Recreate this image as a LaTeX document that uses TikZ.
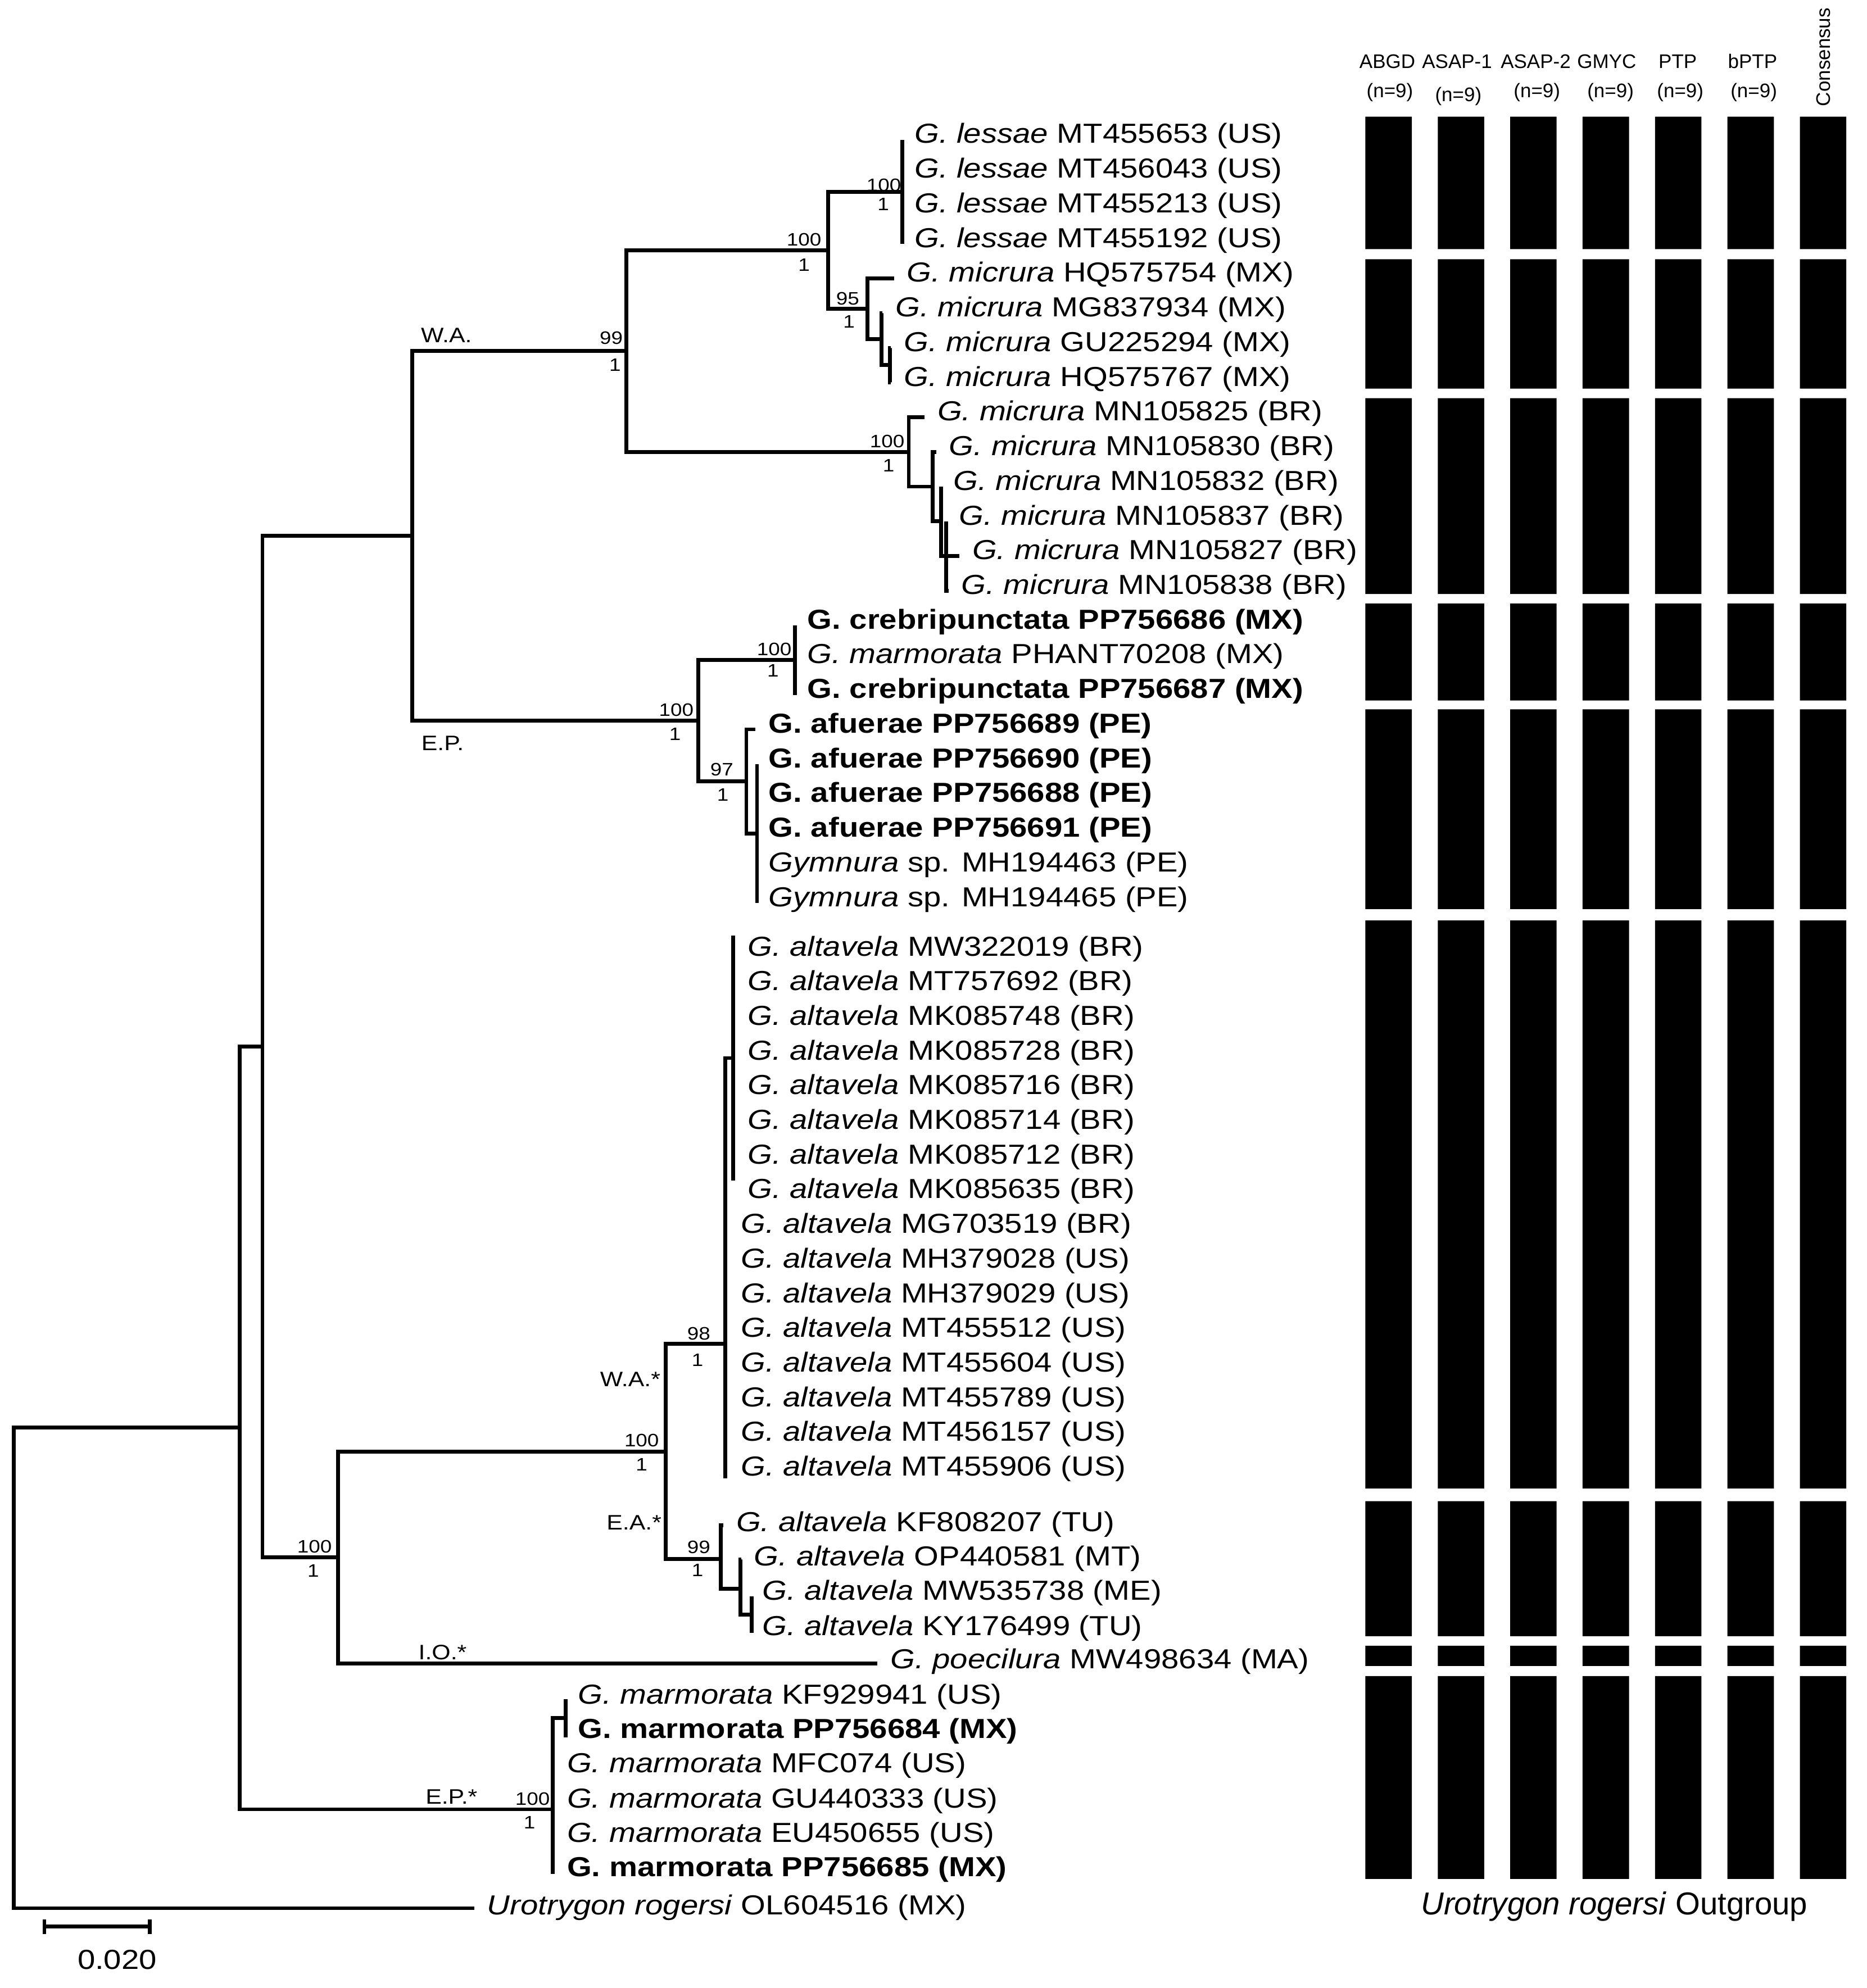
\documentclass[tikz,border=0pt]{standalone}
\usepackage{fontspec}
\setmainfont{Liberation Sans}
\begin{document}
\begin{tikzpicture}[x=1pt,y=-1pt,
	branch/.style={line width=3pt},
	taxon/.style={anchor=base west, inner sep=0pt, font=\fontsize{21.7}{26}\selectfont, xscale=1.15},
	supp/.style={inner sep=0pt, font=\fontsize{14.2}{17}\selectfont, xscale=1.15},
	clade/.style={anchor=base, inner sep=0pt, font=\fontsize{16.5}{20}\selectfont, xscale=1.15},
	hdr/.style={anchor=base, inner sep=0pt, font=\fontsize{15.5}{18}\selectfont},
	mbar/.style={fill=black}]
	\useasboundingbox (0,0) rectangle (1472,1568);

	% internal nodes
	\coordinate (nR) at (11,1315);
	\coordinate (nA) at (189,1126);
	\coordinate (nB) at (207,825.5);
	\coordinate (nC) at (325,422.7);
	\coordinate (nD) at (494,276.9);
	\coordinate (nJ) at (653,197.4);
	\coordinate (nL) at (711.5,151.25);
	\coordinate (nQ) at (684,243.6);
	\coordinate (nS) at (695,267.5);
	\coordinate (nT) at (701.8,288.0);
	\coordinate (nP) at (716.6,356.4);
	\coordinate (nU) at (735.6,383.8);
	\coordinate (nV) at (742,411.2);
	\coordinate (nW) at (746,438.5);
	\coordinate (nE) at (550.5,568.5);
	\coordinate (nX) at (627,520.6);
	\coordinate (nY) at (588.5,616.4);
	\coordinate (nZ) at (597,657.4);
	\coordinate (nF) at (266.5,1228.4);
	\coordinate (nG) at (525,1144.8);
	\coordinate (nH) at (572,1060);
	\coordinate (nI) at (578,834.5);
	\coordinate (nK) at (568.4,1229.6);
	\coordinate (nK1) at (584,1253);
	\coordinate (nK2) at (592.6,1273.5);
	\coordinate (nM) at (436,1427);
	\coordinate (nN) at (446,1355);

	% branch ends
	\coordinate (e1) at (711.5,110.2);
	\coordinate (e2) at (711.5,137.6);
	\coordinate (e3) at (711.5,164.9);
	\coordinate (e4) at (711.5,192.3);
	\coordinate (e5) at (705,219.6);
	\coordinate (e6) at (696,247.0);
	\coordinate (e7) at (702.6,274.4);
	\coordinate (e8) at (702.6,301.7);
	\coordinate (e9) at (729,329.1);
	\coordinate (e10) at (738.3,356.4);
	\coordinate (e11) at (742,383.8);
	\coordinate (e12) at (746,411.2);
	\coordinate (e13) at (756.5,438.5);
	\coordinate (e14) at (748,465.9);
	\coordinate (e15) at (627,493.2);
	\coordinate (e16) at (627,520.6);
	\coordinate (e17) at (627,548.0);
	\coordinate (e18) at (595.8,575.3);
	\coordinate (e19) at (597,602.7);
	\coordinate (e20) at (597,630.0);
	\coordinate (e21) at (597,657.4);
	\coordinate (e22) at (597,684.8);
	\coordinate (e23) at (597,712.1);
	\coordinate (e24) at (578,738);
	\coordinate (e25) at (578,765.6);
	\coordinate (e26) at (578,793.1);
	\coordinate (e27) at (578,820.7);
	\coordinate (e28) at (578,848.3);
	\coordinate (e29) at (578,875.9);
	\coordinate (e30) at (578,903.4);
	\coordinate (e31) at (578,931);
	\coordinate (e32) at (572,969.8);
	\coordinate (e33) at (572,997.2);
	\coordinate (e34) at (572,1024.5);
	\coordinate (e35) at (572,1051.8);
	\coordinate (e36) at (572,1079.2);
	\coordinate (e37) at (572,1106.5);
	\coordinate (e38) at (572,1133.8);
	\coordinate (e39) at (572,1166);
	\coordinate (e40) at (570.4,1203);
	\coordinate (e41) at (584.5,1230);
	\coordinate (e42) at (592.6,1259);
	\coordinate (e43) at (592.6,1288);
	\coordinate (e44) at (692,1312);
	\coordinate (e45) at (446,1340);
	\coordinate (e46) at (446,1370.5);
	\coordinate (e47) at (436,1395);
	\coordinate (e48) at (436,1423);
	\coordinate (e49) at (436,1450);
	\coordinate (e50) at (436,1478);
	\coordinate (e51) at (374,1505);

	% branches
	\draw[branch] (nR) |- (nA) (nR) |- (e51);
	\draw[branch] (nA) |- (nB) (nA) |- (nM);
	\draw[branch] (nB) |- (nC) (nB) |- (nF);
	\draw[branch] (nC) |- (nD) (nC) |- (nE);
	\draw[branch] (nD) |- (nJ) (nD) |- (nP);
	\draw[branch] (nJ) |- (nL) (nJ) |- (nQ);
	\draw[branch] (nL) |- (e1) (nL) |- (e2) (nL) |- (e3) (nL) |- (e4);
	\draw[branch] (nQ) |- (e5) (nQ) |- (nS);
	\draw[branch] (nS) |- (e6) (nS) |- (nT);
	\draw[branch] (nT) |- (e7) (nT) |- (e8);
	\draw[branch] (nP) |- (e9) (nP) |- (nU);
	\draw[branch] (nU) |- (e10) (nU) |- (nV);
	\draw[branch] (nV) |- (e11) (nV) |- (nW);
	\draw[branch] (nW) |- (e12) (nW) |- (e13) (nW) |- (e14);
	\draw[branch] (nE) |- (nX) (nE) |- (nY);
	\draw[branch] (nX) |- (e15) (nX) |- (e16) (nX) |- (e17);
	\draw[branch] (nY) |- (e18) (nY) |- (nZ);
	\draw[branch] (nZ) |- (e19) (nZ) |- (e20) (nZ) |- (e21) (nZ) |- (e22) (nZ) |- (e23);
	\draw[branch] (nF) |- (nG) (nF) |- (e44);
	\draw[branch] (nG) |- (nH) (nG) |- (nK);
	\draw[branch] (nH) |- (nI) (nH) |- (e32) (nH) |- (e33) (nH) |- (e34) (nH) |- (e35);
	\draw[branch] (nH) |- (e36) (nH) |- (e37) (nH) |- (e38) (nH) |- (e39);
	\draw[branch] (nI) |- (e24) (nI) |- (e25) (nI) |- (e26) (nI) |- (e27);
	\draw[branch] (nI) |- (e28) (nI) |- (e29) (nI) |- (e30) (nI) |- (e31);
	\draw[branch] (nK) |- (e40) (nK) |- (nK1);
	\draw[branch] (nK1) |- (e41) (nK1) |- (nK2);
	\draw[branch] (nK2) |- (e42) (nK2) |- (e43);
	\draw[branch] (nM) |- (nN) (nM) |- (e47) (nM) |- (e48) (nM) |- (e49) (nM) |- (e50);
	\draw[branch] (nN) |- (e45) (nN) |- (e46);

	% taxa
	\node[taxon] (t1) at (721,113.0) {\textit{G. lessae} MT455653 (US)};
	\node[taxon] (t2) at (721,140.4) {\textit{G. lessae} MT456043 (US)};
	\node[taxon] (t3) at (721,167.7) {\textit{G. lessae} MT455213 (US)};
	\node[taxon] (t4) at (721,195.1) {\textit{G. lessae} MT455192 (US)};
	\node[taxon] (t5) at (715,222.4) {\textit{G. micrura} HQ575754 (MX)};
	\node[taxon] (t6) at (706,249.8) {\textit{G. micrura} MG837934 (MX)};
	\node[taxon] (t7) at (712.6,277.2) {\textit{G. micrura} GU225294 (MX)};
	\node[taxon] (t8) at (712.6,304.5) {\textit{G. micrura} HQ575767 (MX)};
	\node[taxon] (t9) at (739,331.9) {\textit{G. micrura} MN105825 (BR)};
	\node[taxon] (t10) at (748.3,359.2) {\textit{G. micrura} MN105830 (BR)};
	\node[taxon] (t11) at (751.7,386.6) {\textit{G. micrura} MN105832 (BR)};
	\node[taxon] (t12) at (756,414.0) {\textit{G. micrura} MN105837 (BR)};
	\node[taxon] (t13) at (766.5,441.3) {\textit{G. micrura} MN105827 (BR)};
	\node[taxon] (t14) at (758,468.7) {\textit{G. micrura} MN105838 (BR)};
	\node[taxon] (t15) at (636.5,496.0) {\textbf{G. crebripunctata PP756686 (MX)}};
	\node[taxon] (t16) at (636.5,523.4) {\textit{G. marmorata} PHANT70208 (MX)};
	\node[taxon] (t17) at (636.5,550.8) {\textbf{G. crebripunctata PP756687 (MX)}};
	\node[taxon] (t18) at (605.8,578.1) {\textbf{G. afuerae PP756689 (PE)}};
	\node[taxon] (t19) at (606,605.5) {\textbf{G. afuerae PP756690 (PE)}};
	\node[taxon] (t20) at (606,632.8) {\textbf{G. afuerae PP756688 (PE)}};
	\node[taxon] (t21) at (606,660.2) {\textbf{G. afuerae PP756691 (PE)}};
	\node[taxon] (t22) at (606,687.6) {\textit{Gymnura} sp. MH194463 (PE)};
	\node[taxon] (t23) at (606,714.9) {\textit{Gymnura} sp. MH194465 (PE)};
	\node[taxon] (t24) at (589.4,754.0) {\textit{G. altavela} MW322019 (BR)};
	\node[taxon] (t25) at (589.4,781.3) {\textit{G. altavela} MT757692 (BR)};
	\node[taxon] (t26) at (589.4,808.7) {\textit{G. altavela} MK085748 (BR)};
	\node[taxon] (t27) at (589.4,836.0) {\textit{G. altavela} MK085728 (BR)};
	\node[taxon] (t28) at (589.4,863.3) {\textit{G. altavela} MK085716 (BR)};
	\node[taxon] (t29) at (589.4,890.7) {\textit{G. altavela} MK085714 (BR)};
	\node[taxon] (t30) at (589.4,918.0) {\textit{G. altavela} MK085712 (BR)};
	\node[taxon] (t31) at (589.4,945.3) {\textit{G. altavela} MK085635 (BR)};
	\node[taxon] (t32) at (584,972.6) {\textit{G. altavela} MG703519 (BR)};
	\node[taxon] (t33) at (584,1000.0) {\textit{G. altavela} MH379028 (US)};
	\node[taxon] (t34) at (584,1027.3) {\textit{G. altavela} MH379029 (US)};
	\node[taxon] (t35) at (584,1054.6) {\textit{G. altavela} MT455512 (US)};
	\node[taxon] (t36) at (584,1082.0) {\textit{G. altavela} MT455604 (US)};
	\node[taxon] (t37) at (584,1109.3) {\textit{G. altavela} MT455789 (US)};
	\node[taxon] (t38) at (584,1136.6) {\textit{G. altavela} MT456157 (US)};
	\node[taxon] (t39) at (584,1164.0) {\textit{G. altavela} MT455906 (US)};
	\node[taxon] (t40) at (580.4,1208) {\textit{G. altavela} KF808207 (TU)};
	\node[taxon] (t41) at (594.5,1235) {\textit{G. altavela} OP440581 (MT)};
	\node[taxon] (t42) at (601,1262) {\textit{G. altavela} MW535738 (ME)};
	\node[taxon] (t43) at (601,1290) {\textit{G. altavela} KY176499 (TU)};
	\node[taxon] (t44) at (702,1316) {\textit{G. poecilura} MW498634 (MA)};
	\node[taxon] (t45) at (455.5,1344) {\textit{G. marmorata} KF929941 (US)};
	\node[taxon] (t46) at (455.5,1371) {\textbf{G. marmorata PP756684 (MX)}};
	\node[taxon] (t47) at (447,1398) {\textit{G. marmorata} MFC074 (US)};
	\node[taxon] (t48) at (447,1426) {\textit{G. marmorata} GU440333 (US)};
	\node[taxon] (t49) at (447,1453) {\textit{G. marmorata} EU450655 (US)};
	\node[taxon] (t50) at (447,1480) {\textbf{G. marmorata PP756685 (MX)}};
	\node[taxon] (t51) at (384,1510) {\textit{Urotrygon rogersi} OL604516 (MX)};

	% support values
	\node[supp] (bL) at (697,146) {100};
	\node[supp] (pL) at (696.5,161) {1};
	\node[supp] (bJ) at (634,189) {100};
	\node[supp] (pJ) at (634,209) {1};
	\node[supp] (bQ) at (668.5,235.5) {95};
	\node[supp] (pQ) at (669.5,253.6) {1};
	\node[supp] (bD) at (482,266.5) {99};
	\node[supp] (pD) at (485,288) {1};
	\node[supp] (bP) at (699.6,348) {100};
	\node[supp] (pP) at (700.7,367) {1};
	\node[supp] (bX) at (610.5,512) {100};
	\node[supp] (pX) at (609.5,529) {1};
	\node[supp] (bE) at (533.3,560) {100};
	\node[supp] (pE) at (532.3,578.8) {1};
	\node[supp] (bY) at (569.2,607) {97};
	\node[supp] (pY) at (570,626.7) {1};
	\node[supp] (bH) at (551,1052) {98};
	\node[supp] (pH) at (550,1072.7) {1};
	\node[supp] (bG) at (506,1136) {100};
	\node[supp] (pG) at (506,1155) {1};
	\node[supp] (bK) at (551,1220.3) {99};
	\node[supp] (pK) at (550,1238.5) {1};
	\node[supp] (bF) at (248,1220) {100};
	\node[supp] (pF) at (247,1239) {1};
	\node[supp] (bM) at (420,1419) {100};
	\node[supp] (pM) at (417.5,1437.5) {1};

	% clade labels
	\node[clade] (cWA) at (352,270) {W.A.};
	\node[clade] (cEP) at (349,592) {E.P.};
	\node[clade] (cWAs) at (497,1093.5) {W.A.*};
	\node[clade] (cEAs) at (500,1206.5) {E.A.*};
	\node[clade] (cIOs) at (349,1309) {I.O.*};
	\node[clade] (cEPs) at (356,1423) {E.P.*};

	% scale bar
	\coordinate (sbL) at (35,1519.5);
	\coordinate (sbR) at (118,1519.5);
	\draw[branch] (sbL) -- (sbR);
	\draw[branch] ([yshift=5.8pt]sbL) -- ([yshift=-5.8pt]sbL);
	\draw[branch] ([yshift=5.8pt]sbR) -- ([yshift=-5.8pt]sbR);
	\node[taxon, anchor=base] (sbtext) at (92.4,1553) {0.020};

	% delimitation header
	\node[hdr] (hABGD) at (1094,54) {ABGD};
	\node[hdr] (hASAPa) at (1149,54) {ASAP-1};
	\node[hdr] (hASAPb) at (1211,54) {ASAP-2};
	\node[hdr] (hGMYC) at (1267,54) {GMYC};
	\node[hdr] (hPTP) at (1323,54) {PTP};
	\node[hdr] (hbPTP) at (1382,54) {bPTP};
	\node[hdr] (kABGD) at (1096,77) {(n=9)};
	\node[hdr] (kASAPa) at (1150,80) {(n=9)};
	\node[hdr] (kASAPb) at (1212,77) {(n=9)};
	\node[hdr] (kGMYC) at (1270,77) {(n=9)};
	\node[hdr] (kPTP) at (1325,77) {(n=9)};
	\node[hdr] (kbPTP) at (1383,77) {(n=9)};
	\node[hdr, anchor=center, rotate=90] (hCons) at (1438,45) {Consensus};

	% delimitation bars
	\fill[mbar] (1076.7,92) rectangle +(36.6,104.5) (1076.7,204.5) rectangle +(36.6,102) (1076.7,314) rectangle +(36.6,154.5) (1076.7,476) rectangle +(36.6,76.5) (1076.7,559.5) rectangle +(36.6,157.5) (1076.7,726) rectangle +(36.6,448) (1076.7,1184) rectangle +(36.6,106.5) (1076.7,1298) rectangle +(36.6,16) (1076.7,1322) rectangle +(36.6,160);
	\fill[mbar] (1133.8,92) rectangle +(36.6,104.5) (1133.8,204.5) rectangle +(36.6,102) (1133.8,314) rectangle +(36.6,154.5) (1133.8,476) rectangle +(36.6,76.5) (1133.8,559.5) rectangle +(36.6,157.5) (1133.8,726) rectangle +(36.6,448) (1133.8,1184) rectangle +(36.6,106.5) (1133.8,1298) rectangle +(36.6,16) (1133.8,1322) rectangle +(36.6,160);
	\fill[mbar] (1190.9,92) rectangle +(36.6,104.5) (1190.9,204.5) rectangle +(36.6,102) (1190.9,314) rectangle +(36.6,154.5) (1190.9,476) rectangle +(36.6,76.5) (1190.9,559.5) rectangle +(36.6,157.5) (1190.9,726) rectangle +(36.6,448) (1190.9,1184) rectangle +(36.6,106.5) (1190.9,1298) rectangle +(36.6,16) (1190.9,1322) rectangle +(36.6,160);
	\fill[mbar] (1248,92) rectangle +(36.6,104.5) (1248,204.5) rectangle +(36.6,102) (1248,314) rectangle +(36.6,154.5) (1248,476) rectangle +(36.6,76.5) (1248,559.5) rectangle +(36.6,157.5) (1248,726) rectangle +(36.6,448) (1248,1184) rectangle +(36.6,106.5) (1248,1298) rectangle +(36.6,16) (1248,1322) rectangle +(36.6,160);
	\fill[mbar] (1305.1,92) rectangle +(36.6,104.5) (1305.1,204.5) rectangle +(36.6,102) (1305.1,314) rectangle +(36.6,154.5) (1305.1,476) rectangle +(36.6,76.5) (1305.1,559.5) rectangle +(36.6,157.5) (1305.1,726) rectangle +(36.6,448) (1305.1,1184) rectangle +(36.6,106.5) (1305.1,1298) rectangle +(36.6,16) (1305.1,1322) rectangle +(36.6,160);
	\fill[mbar] (1362.2,92) rectangle +(36.6,104.5) (1362.2,204.5) rectangle +(36.6,102) (1362.2,314) rectangle +(36.6,154.5) (1362.2,476) rectangle +(36.6,76.5) (1362.2,559.5) rectangle +(36.6,157.5) (1362.2,726) rectangle +(36.6,448) (1362.2,1184) rectangle +(36.6,106.5) (1362.2,1298) rectangle +(36.6,16) (1362.2,1322) rectangle +(36.6,160);
	\fill[mbar] (1419.3,92) rectangle +(36.6,104.5) (1419.3,204.5) rectangle +(36.6,102) (1419.3,314) rectangle +(36.6,154.5) (1419.3,476) rectangle +(36.6,76.5) (1419.3,559.5) rectangle +(36.6,157.5) (1419.3,726) rectangle +(36.6,448) (1419.3,1184) rectangle +(36.6,106.5) (1419.3,1298) rectangle +(36.6,16) (1419.3,1322) rectangle +(36.6,160);
	\node[hdr, font=\fontsize{25}{30}\selectfont] (outgroup) at (1273,1510) {\textit{Urotrygon rogersi} Outgroup};
\end{tikzpicture}
\end{document}
